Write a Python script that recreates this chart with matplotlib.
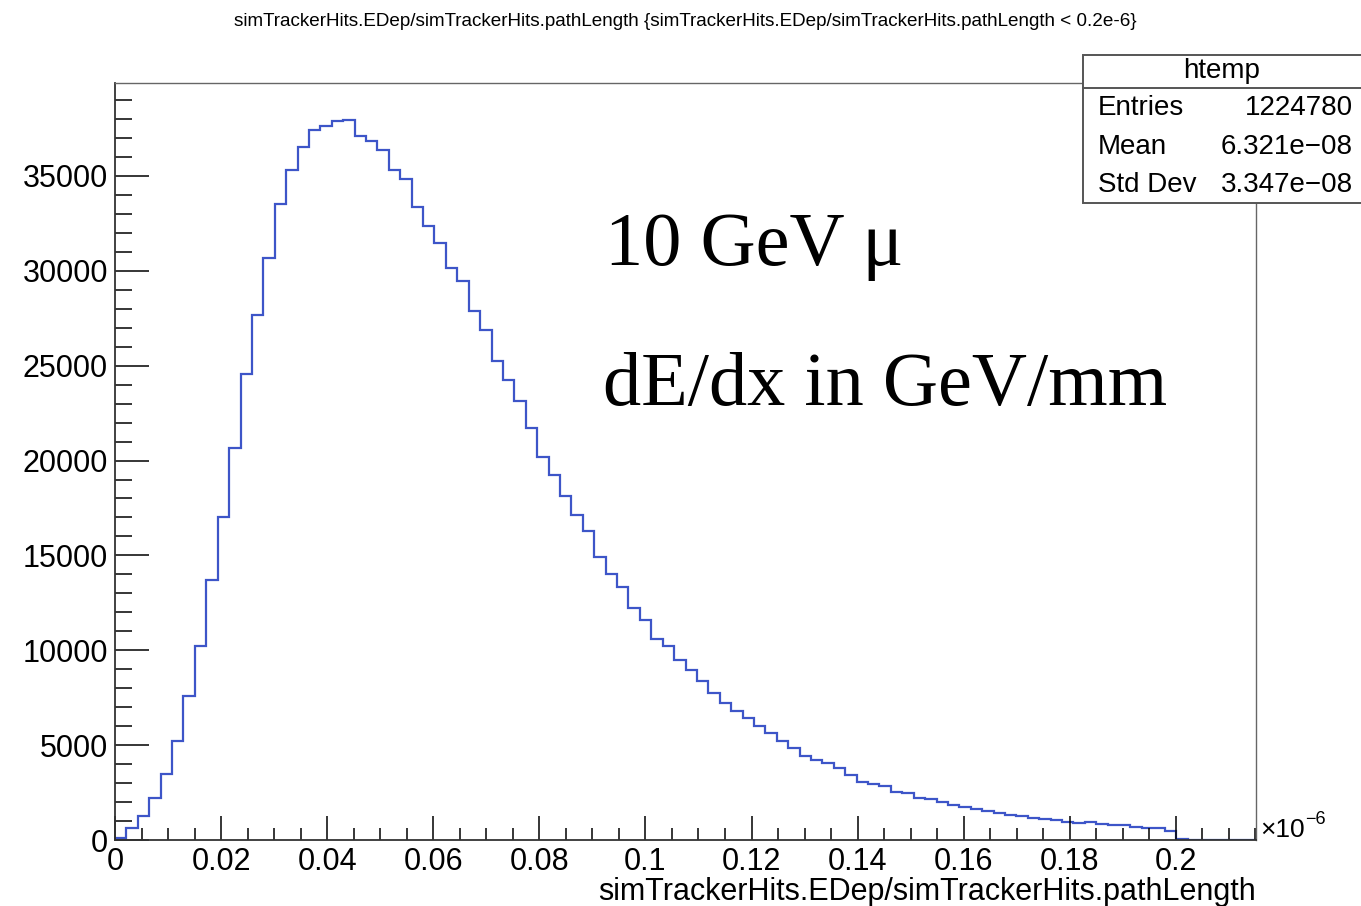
import numpy as np
import matplotlib
matplotlib.use('Agg')
import matplotlib.pyplot as plt
from matplotlib.ticker import MultipleLocator, FuncFormatter
from matplotlib.patches import Rectangle
from matplotlib.lines import Line2D

# bin contents of htemp (100 bins, x in units of 1e-6)
counts = [80, 650, 1285, 2220, 3470, 5200, 7580, 10220, 13700, 17000,
          20650, 24575, 27690, 30690, 33520, 35290, 36520, 37430, 37610, 37910,
          37960, 37130, 36850, 36380, 35290, 34830, 33380, 32380, 31480, 30160,
          29450, 27900, 26900, 25230, 24220, 23130, 21720, 20200, 19240, 18140,
          17130, 16310, 14900, 14000, 13360, 12210, 11620, 10620, 10250, 9500,
          8950, 8370, 7750, 7220, 6780, 6430, 5990, 5640, 5200, 4845,
          4405, 4230, 4050, 3790, 3435, 3080, 2940, 2820, 2555, 2465,
          2240, 2150, 2025, 1850, 1730, 1620, 1550, 1410, 1305, 1250,
          1145, 1110, 1055, 970, 880, 950, 845, 810, 775, 705,
          650, 615, 475, 30, 0, 0, 0, 0, 0, 0]
x_lo, x_hi = 0.0, 0.2151
y_max = 39900

title = 'simTrackerHits.EDep/simTrackerHits.pathLength {simTrackerHits.EDep/simTrackerHits.pathLength < 0.2e-6}'
xlabel = 'simTrackerHits.EDep/simTrackerHits.pathLength'
stats_name = 'htemp'
stats_rows = [('Entries', '1224780'), ('Mean', '6.321e\u221208'), ('Std Dev', '3.347e\u221208')]

sans = ['Liberation Sans', 'DejaVu Sans']
serif = ['Liberation Serif', 'DejaVu Serif']
line_col = '#3d55c8'

fig = plt.figure(figsize=(13.61, 9.06), dpi=100)
ax = fig.add_axes([115/1361, 66/906, 1141/1361, 757/906])

edges = np.linspace(x_lo, x_hi, len(counts) + 1)
ax.stairs(counts, edges, color=line_col, linewidth=1.6, baseline=None)

ax.set_xlim(x_lo, x_hi)
ax.set_ylim(0, y_max)

ax.xaxis.set_major_locator(MultipleLocator(0.02))
ax.xaxis.set_minor_locator(MultipleLocator(0.005))
ax.yaxis.set_major_locator(MultipleLocator(5000))
ax.yaxis.set_minor_locator(MultipleLocator(1000))
ax.xaxis.set_major_formatter(FuncFormatter(lambda v, p: '0' if abs(v) < 1e-9 else ('%.2f' % v).rstrip('0')))
ax.yaxis.set_major_formatter(FuncFormatter(lambda v, p: '%d' % v))

ax.tick_params(axis='x', which='major', direction='in', length=17, width=1.1, pad=5)
ax.tick_params(axis='x', which='minor', direction='in', length=8.5, width=1.1)
ax.tick_params(axis='y', which='major', direction='in', length=24.5, width=1.1, pad=5)
ax.tick_params(axis='y', which='minor', direction='in', length=12.5, width=1.1)
for lab in ax.get_xticklabels() + ax.get_yticklabels():
    lab.set_family(sans)
    lab.set_fontsize(22)

for side in ['top', 'right']:
    ax.spines[side].set_color('#666666')
    ax.spines[side].set_linewidth(1.0)
for side in ['left', 'bottom']:
    ax.spines[side].set_color('#333333')
    ax.spines[side].set_linewidth(1.3)

ax.set_xlabel(xlabel, family=sans, fontsize=22, loc='right', labelpad=0)

fig.text(1260/1361, 1 - 830/906, '\u00d710', family=sans, fontsize=19, ha='left', va='center')
fig.text(1305/1361, 1 - 820/906, '\u22126', family=sans, fontsize=13, ha='left', va='center')

fig.text(685/1361, 1 - 22/906, title, family=sans, fontsize=13.6, ha='center', va='center')

# annotation
fig.text(605/1361, 1 - 265/906, '10 GeV \u03bc', family=serif, fontsize=55, ha='left', va='baseline')
fig.text(603/1361, 1 - 405/906, 'dE/dx in GeV/mm', family=serif, fontsize=55, ha='left', va='baseline')

# stats box
bx0, bx1, by0, by1, byh = 1083, 1365, 203, 55, 88
fig.patches.append(Rectangle((bx0/1361, 1 - by0/906), (bx1 - bx0)/1361, (by0 - by1)/906,
                             transform=fig.transFigure, facecolor='white', edgecolor='#555555',
                             linewidth=1.4, zorder=5))
fig.lines.append(Line2D([bx0/1361, 1], [1 - byh/906, 1 - byh/906], transform=fig.transFigure,
                        color='#555555', linewidth=1.4, zorder=6))
fig.text(1222/1361, 1 - 71/906, stats_name, family=sans, fontsize=20, ha='center', va='center', zorder=7)
row_y = [108, 147, 185]
for (name, val), ry in zip(stats_rows, row_y):
    fig.text(1098/1361, 1 - ry/906, name, family=sans, fontsize=20, ha='left', va='center', zorder=7)
    fig.text(1353/1361, 1 - ry/906, val, family=sans, fontsize=20, ha='right', va='center', zorder=7)

fig.savefig('out.png', dpi=100)
